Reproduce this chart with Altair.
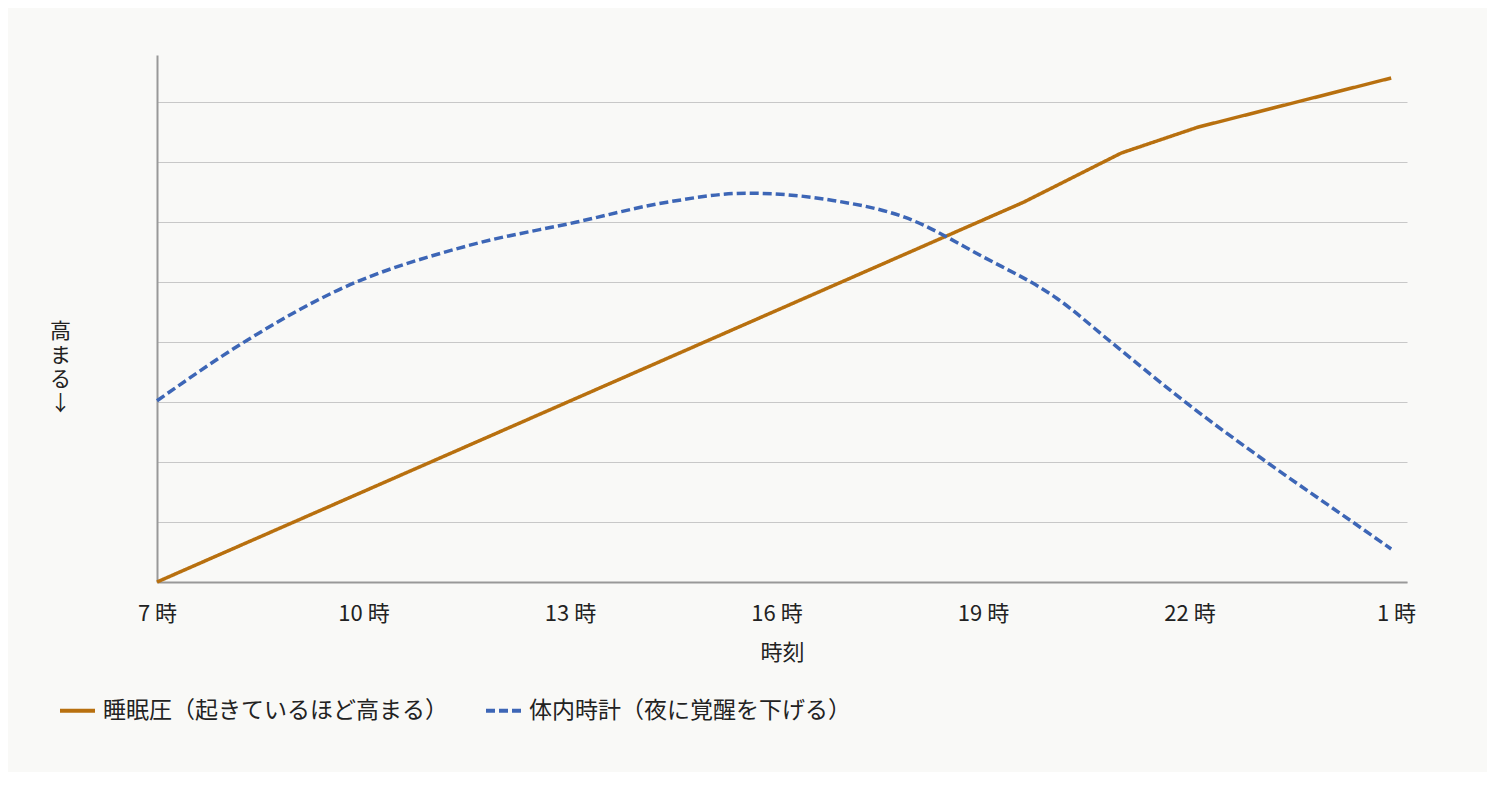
import altair as alt
import pandas as pd

FONT = "Noto Sans CJK JP"

series_names = ["睡眠圧（起きているほど高まる）", "体内時計（夜に覚醒を下げる）"]
series_colors = ["#B8700F", "#3D66B6"]

# sleep pressure (hours, level)
sleep_hours = [7.0, 19.59, 21.01, 22.12, 24.93]
sleep_level = [0.0, 6.33, 7.15, 7.58, 8.40]

# circadian clock (hours, level)
clock_hours = [7.0, 8.31, 9.64, 11.50, 13.10, 14.41, 15.57, 16.82, 17.86,
               19.0, 20.07, 20.88, 21.96, 23.12, 24.37, 24.93]
clock_level = [3.02, 4.03, 4.87, 5.60, 6.00, 6.33, 6.48, 6.36, 6.08,
               5.42, 4.73, 3.98, 2.98, 2.00, 1.00, 0.55]

tick_values = [7, 10, 13, 16, 19, 22, 25]

sleep_df = pd.DataFrame({"hour": sleep_hours, "level": sleep_level, "series": series_names[0]})
clock_df = pd.DataFrame({"hour": clock_hours, "level": clock_level, "series": series_names[1]})

x_enc = alt.X(
    "hour:Q",
    scale=alt.Scale(domain=[7, 25.16], nice=False, zero=False),
    axis=alt.Axis(
        values=tick_values,
        labelExpr="(datum.value > 24 ? datum.value - 24 : datum.value) + ' 時'",
        grid=False, ticks=False, labelFlush=False, labelOverlap=False,
        domainColor="#999999", domainWidth=2,
        labelFont=FONT, labelFontSize=22, labelColor="#222222",
        labelPadding=21,
        title="時刻", titleFont=FONT, titleFontSize=22, titleFontWeight="normal",
        titleColor="#222222", titleY=70, titleBaseline="middle",
    ),
)
y_enc = alt.Y(
    "level:Q",
    scale=alt.Scale(domain=[0, 8.7833], nice=False),
    axis=alt.Axis(
        values=[0, 1, 2, 3, 4, 5, 6, 7, 8],
        labels=False, ticks=False,
        grid=True, gridColor="#C8C8C8", gridWidth=1,
        domainColor="#999999", domainWidth=2,
        title=["高", "ま", "る", "↓"], titleAngle=0, titleFont=FONT, titleFontSize=21,
        titleFontWeight="normal", titleColor="#222222", titleLineHeight=24,
        titleX=-97, titleY=265, titleAlign="center", titleBaseline="top",
    ),
)
color_enc = alt.Color(
    "series:N",
    scale=alt.Scale(domain=series_names, range=series_colors),
    legend=alt.Legend(
        title=None, orient="none", legendX=-99, legendY=636, direction="horizontal",
        symbolType="stroke", symbolSize=1225, symbolStrokeWidth=4,
        labelFont=FONT, labelFontSize=23, labelColor="#222222", labelOffset=6,
        columnPadding=30, labelLimit=600,
    ),
)
dash_enc = alt.StrokeDash(
    "series:N",
    scale=alt.Scale(domain=series_names, range=[[1, 0], [9, 4]]),
    legend=None,
)

sleep_line = alt.Chart(sleep_df).mark_line(strokeWidth=3.5, interpolate="linear").encode(
    x=x_enc, y=y_enc, color=color_enc, strokeDash=dash_enc
)
clock_line = alt.Chart(clock_df).mark_line(strokeWidth=3.5, interpolate="monotone").encode(
    x=x_enc, y=y_enc, color=color_enc, strokeDash=dash_enc
)

chart = alt.layer(sleep_line, clock_line).properties(
    width=1250, height=527,
    autosize=alt.AutoSizeParams(type="none"),
    padding={"left": 149, "top": 47, "right": 80, "bottom": 190},
    background="#F9F9F7",
).configure_view(stroke=None)

chart.save("out.html", embed_options={"renderer": "svg", "actions": False})
